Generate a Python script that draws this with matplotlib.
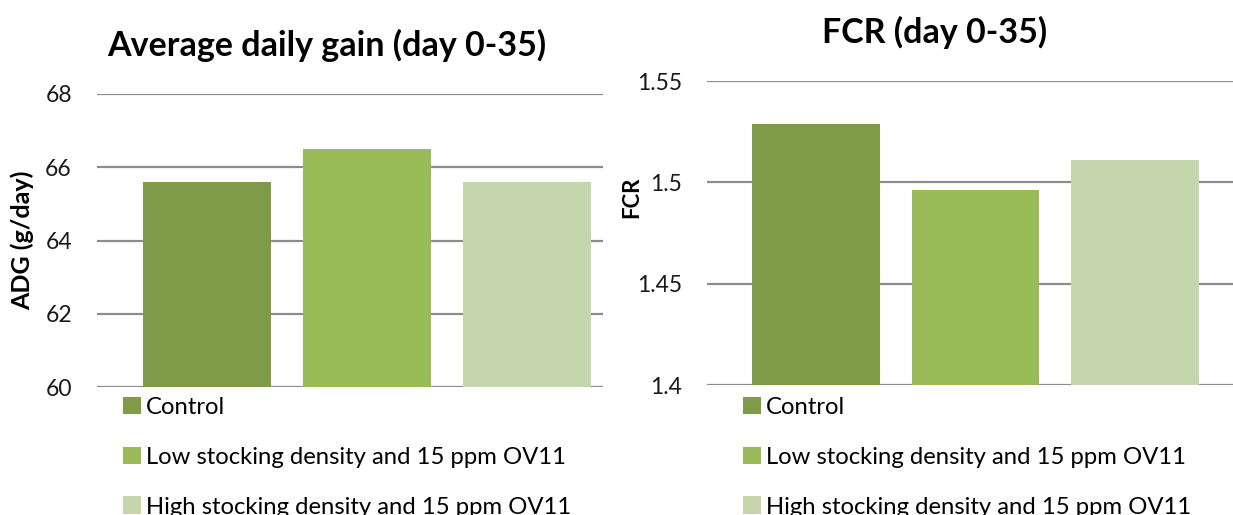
import matplotlib
matplotlib.use("Agg")
import matplotlib.pyplot as plt
from matplotlib.patches import Patch

plt.rcParams['font.family'] = ['Lato', 'DejaVu Sans']

series = ["Control", "Low stocking density and 15 ppm OV11", "High stocking density and 15 ppm OV11"]
colors = ["#7F9B4A", "#9BBB59", "#C6D6AC"]
adg = [65.6, 66.5, 65.6]
fcr = [1.529, 1.496, 1.511]
adg_ticks = [60, 62, 64, 66, 68]
fcr_ticks = [1.4, 1.45, 1.5, 1.55]
fcr_ticklabels = ["1.4", "1.45", "1.5", "1.55"]

W, H = 1233, 515
fig = plt.figure(figsize=(W / 100, H / 100), dpi=100)

def px_axes(x0, y0, x1, y1):
    return fig.add_axes([x0 / W, 1 - y1 / H, (x1 - x0) / W, (y1 - y0) / H])

def style(ax, ticks, labels, ylim, xlim):
    ax.set_ylim(*ylim)
    ax.set_xlim(*xlim)
    ax.set_yticks(ticks)
    ax.set_yticklabels(labels, fontsize=16.5, color="#1a1a1a")
    ax.set_xticks([])
    ax.tick_params(axis='y', length=0, pad=18)
    for s in ax.spines.values():
        s.set_visible(False)
    ax.yaxis.grid(True, color="#8c8c8c", linewidth=1.6)
    ax.set_axisbelow(True)

pos = [0, 1, 2]

ax1 = px_axes(97, 94, 603, 387)
ax1.bar(pos, [v - 60 for v in adg], bottom=60, width=0.8, color=colors)
style(ax1, adg_ticks, [str(t) for t in adg_ticks], (60, 68), (-0.6875, 2.475))
ax1.set_ylabel("ADG (g/day)", fontsize=18, fontweight="bold")
ax1.yaxis.set_label_coords(-0.1245, 0.5)
fig.text(327 / W, 1 - 45 / H, "Average daily gain (day 0-35)", fontsize=24.5,
         fontweight="bold", ha="center", va="center")

ax2 = px_axes(707, 81, 1233, 385)
ax2.bar(pos, [v - 1.4 for v in fcr], bottom=1.4, width=0.8, color=colors)
style(ax2, fcr_ticks, fcr_ticklabels, (1.4, 1.55), (-0.681, 2.6125))
ax2.set_ylabel("FCR", fontsize=16, fontweight="bold")
ax2.yaxis.set_label_coords(-0.1236, 0.618)
fig.text(935 / W, 1 - 32 / H, "FCR (day 0-35)", fontsize=24.5,
         fontweight="bold", ha="center", va="center")

handles = [Patch(facecolor=c, edgecolor="none") for c in colors]
for x0 in (123, 743):
    fig.legend(handles, series, loc="upper left",
               bbox_to_anchor=(x0 / W, 1 - 397 / H), frameon=False,
               fontsize=17.2, handlelength=0.75, handleheight=0.75,
               handletextpad=0.2, labelspacing=1.2, borderpad=0, borderaxespad=0)

fig.savefig("out.png", dpi=100, facecolor="white")
